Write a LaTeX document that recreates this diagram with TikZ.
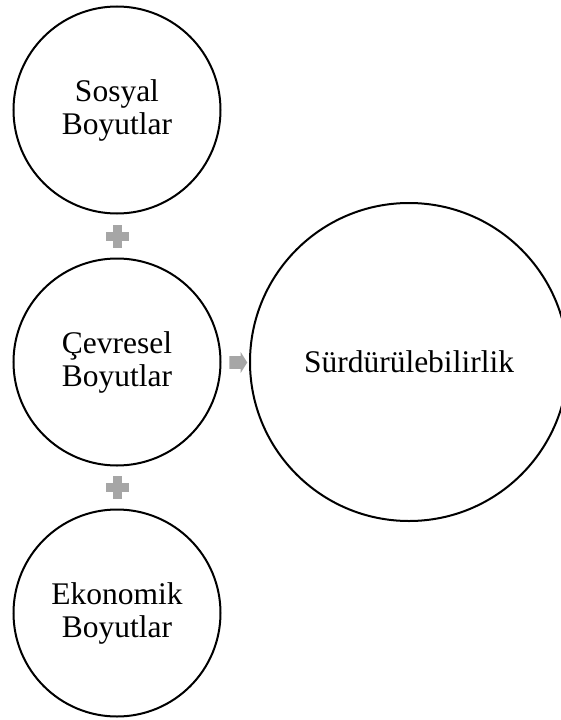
\documentclass[tikz,border=0pt]{standalone}
\usepackage{fontspec}
\setmainfont{Liberation Serif}
\usetikzlibrary{calc}
\definecolor{signgray}{RGB}{166,166,166}
\begin{document}
\begin{tikzpicture}[x=1pt,y=-1pt,
  dimension/.style={circle,draw=black,line width=2pt,minimum size=207pt,
    inner sep=0pt,align=center,font=\fontsize{31.5}{33}\selectfont},
  goal/.style={dimension,minimum size=318pt},
  sign/.style={fill=signgray,draw=none}]
\useasboundingbox (0,0) rectangle (561,720);
\clip (0,0) rectangle (561,720);

% the three dimensions, stacked
\node[dimension] (sos) at (117,110) {Sosyal\\Boyutlar};
\node[dimension] (cev) at (117,362) {Çevresel\\Boyutlar};
\node[dimension] (eko) at (117,613) {Ekonomik\\Boyutlar};

% the result
\node[goal] (sur) at (409,362) {Sürdürülebilirlik};

% plus signs between the dimensions
\coordinate (p1) at ($(sos.south)!0.5!(cev.north)$);
\coordinate (p2) at ($(cev.south)!0.5!(eko.north)$);
\foreach \p in {p1,p2}{
  \fill[sign] ($(\p)+(-11.5,-4.5)$) rectangle ($(\p)+(11.5,4.5)$);
  \fill[sign] ($(\p)+(-4.5,-11.5)$) rectangle ($(\p)+(4.5,11.5)$);
}

% arrow towards the result
\coordinate (ar) at ($(cev.east)!0.5!(sur.west)$);
\fill[sign] ($(ar)+(-6,-5.8)$) -- ($(ar)+(5.4,-5.8)$) -- ($(ar)+(5.4,-10)$)
  -- ($(ar)+(12,0.5)$) -- ($(ar)+(5.4,11)$) -- ($(ar)+(5.4,6.8)$)
  -- ($(ar)+(-6,6.8)$) -- cycle;
\end{tikzpicture}
\end{document}
